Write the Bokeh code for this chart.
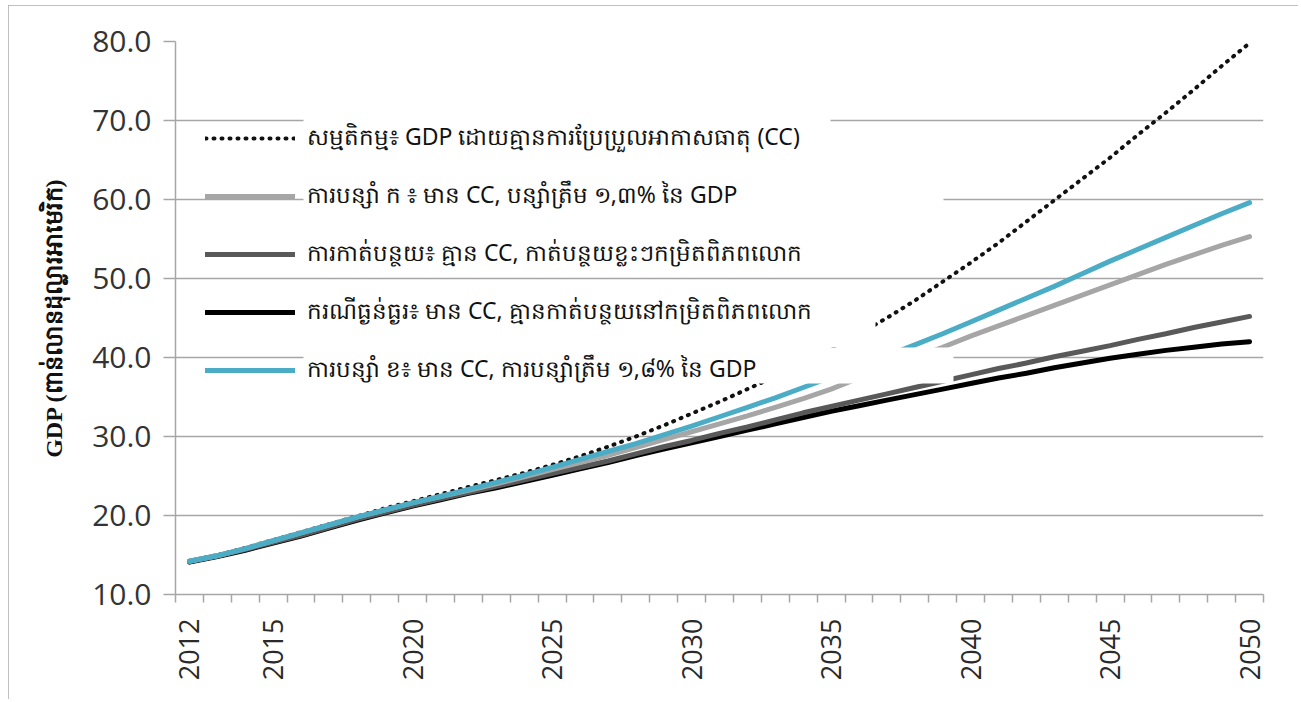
import math
from bokeh.plotting import figure
from bokeh.models import (Range1d, FixedTicker, BoxAnnotation, Legend, LegendItem,
                          NumeralTickFormatter)
from bokeh.embed import file_html
from bokeh.resources import INLINE

# ---------------- data ----------------
years = list(range(2012, 2051))

baseline_no_cc = [14.2, 15.0, 15.9, 16.9, 17.9, 18.9, 19.9, 20.9, 21.8, 22.7,
                  23.6, 24.5, 25.4, 26.4, 27.5, 28.7, 30.0, 31.4, 32.9, 34.4,
                  36.0, 37.6, 39.3, 41.0, 43.0, 45.0, 47.2, 49.6, 52.0, 54.5,
                  57.2, 59.9, 62.6, 65.3, 68.2, 71.0, 73.9, 76.9, 79.8]

adapt_a = [14.2, 14.9, 15.8, 16.8, 17.8, 18.8, 19.8, 20.7, 21.6, 22.4,
           23.2, 24.0, 24.9, 25.8, 26.7, 27.6, 28.6, 29.6, 30.6, 31.6,
           32.6, 33.7, 34.8, 36.0, 37.4, 38.7, 40.0, 41.3, 42.7, 44.0,
           45.3, 46.6, 47.9, 49.2, 50.5, 51.8, 53.0, 54.2, 55.3]

mitigation = [14.2, 14.9, 15.7, 16.6, 17.5, 18.5, 19.5, 20.4, 21.3, 22.1,
              22.9, 23.7, 24.5, 25.3, 26.1, 26.9, 27.8, 28.7, 29.5, 30.4,
              31.2, 32.1, 33.0, 33.8, 34.6, 35.4, 36.2, 37.0, 37.8, 38.6,
              39.3, 40.1, 40.8, 41.5, 42.3, 43.0, 43.8, 44.5, 45.2]

severe = [14.1, 14.8, 15.6, 16.5, 17.4, 18.4, 19.4, 20.3, 21.2, 22.0,
          22.8, 23.5, 24.3, 25.1, 25.9, 26.7, 27.6, 28.4, 29.2, 30.0,
          30.8, 31.6, 32.4, 33.2, 33.9, 34.6, 35.3, 36.0, 36.7, 37.4,
          38.0, 38.7, 39.3, 39.9, 40.4, 40.9, 41.3, 41.7, 42.0]

adapt_b = [14.2, 14.9, 15.8, 16.8, 17.8, 18.8, 19.8, 20.7, 21.6, 22.4,
           23.3, 24.2, 25.1, 26.1, 27.1, 28.1, 29.1, 30.2, 31.3, 32.5,
           33.7, 34.9, 36.2, 37.5, 38.8, 40.2, 41.6, 43.0, 44.5, 46.0,
           47.5, 49.0, 50.6, 52.2, 53.7, 55.2, 56.7, 58.2, 59.6]

series_labels = [
    "សម្មតិកម្ម៖ GDP ដោយគ្មានការប្រែប្រួលអាកាសធាតុ (CC)",
    "ការបន្សាំ ក ៖ មាន CC, បន្សាំត្រឹម ១,៣% នៃ GDP",
    "ការកាត់បន្ថយ៖ គ្មាន CC, កាត់បន្ថយខ្លះៗកម្រិតពិភពលោក",
    "ករណីធ្ងន់ធ្ងរ៖ មាន CC, គ្មានកាត់បន្ថយនៅកម្រិតពិភពលោក",
    "ការបន្សាំ ខ៖ មាន CC, ការបន្សាំត្រឹម ១,៨% នៃ GDP",
]

x_label_years = [2012, 2015, 2020, 2025, 2030, 2035, 2040, 2045, 2050]
y_ticks = [10, 20, 30, 40, 50, 60, 70, 80]
y_title = "GDP (ពាន់លានដុល្លារអាមេរិក)"

# ---------------- figure ----------------
W, H = 1290, 694
ML, MR, MT, MB = 167, 35, 36, 105
FRAME_W, FRAME_H = W - ML - MR, H - MT - MB
p = figure(width=W, height=H, output_backend="svg", toolbar_location=None,
           x_range=Range1d(years[0] - 0.5, years[-1] + 0.5),
           y_range=Range1d(y_ticks[0], y_ticks[-1]),
           min_border_left=ML, min_border_right=MR, min_border_top=MT,
           min_border_bottom=MB)
p.styles = {"margin-left": "8px", "margin-top": "5px",
            "outline": "2px solid #ababab", "outline-offset": "-2px"}
p.outline_line_color = None
p.background_fill_color = "white"
p.border_fill_color = "white"

grid_col = "#a6a6a6"
p.xgrid.visible = False
p.ygrid.ticker = FixedTicker(ticks=y_ticks)
p.ygrid.grid_line_color = grid_col
p.ygrid.grid_line_width = 1.5

# x axis
xa = p.xaxis[0]
xa.ticker = FixedTicker(ticks=x_label_years,
                        minor_ticks=[y - 0.5 for y in years] + [years[-1] + 0.5])
xa.major_tick_out = 0
xa.major_tick_in = 0
xa.minor_tick_out = 8
xa.minor_tick_in = 0
xa.minor_tick_line_color = grid_col
xa.minor_tick_line_width = 1.5
xa.axis_line_color = grid_col
xa.axis_line_width = 1.5
xa.major_label_orientation = math.pi / 2
xa.major_label_text_font = "Open Sans"
xa.major_label_text_font_size = "27px"
xa.major_label_text_color = "#2a2a2a"
xa.major_label_standoff = 16

# y axis
ya = p.yaxis[0]
ya.ticker = FixedTicker(ticks=y_ticks)
ya.formatter = NumeralTickFormatter(format="0.0")
ya.major_tick_out = 12
ya.major_tick_in = 0
ya.minor_tick_out = 0
ya.minor_tick_in = 0
ya.major_tick_line_color = grid_col
ya.major_tick_line_width = 1.5
ya.axis_line_color = grid_col
ya.axis_line_width = 1.5
ya.major_label_text_font = "Open Sans"
ya.major_label_text_font_size = "30px"
ya.major_label_text_color = "#333333"
ya.major_label_standoff = 12
ya.axis_label = y_title
ya.axis_label_text_font = "Liberation Serif"
ya.axis_label_text_font_style = "bold"
ya.axis_label_text_font_size = "24px"
ya.axis_label_text_color = "#111111"
ya.axis_label_standoff = 22

# ---------------- lines ----------------
r_base = p.line(years, baseline_no_cc, line_color="#111111", line_width=4,
                line_dash="1 7", line_cap="round")
r_severe = p.line(years, severe, line_color="#000000", line_width=5, line_cap="round")
r_mit = p.line(years, mitigation, line_color="#595959", line_width=5, line_cap="round")
r_a = p.line(years, adapt_a, line_color="#a6a6a6", line_width=5, line_cap="round")
r_b = p.line(years, adapt_b, line_color="#4bacc6", line_width=5, line_cap="round")

# ---------------- legend (white patches behind labels) ----------------
# layout of the pasted label boxes, px from the plot-area top-left: (left, right, top, bottom)
boxes = [(128, 655, 76, 119), (128, 768, 127, 172), (128, 720, 184, 224),
         (128, 700, 241, 306), (128, 778, 306, 342)]
for (l, r, t, b) in boxes:
    p.add_layout(BoxAnnotation(left=l, right=r, top=FRAME_H - t, bottom=FRAME_H - b,
                               left_units="screen", right_units="screen",
                               top_units="screen", bottom_units="screen",
                               fill_color="white", fill_alpha=1.0,
                               line_color=None, level="overlay"))

legend = Legend(items=[LegendItem(label=series_labels[0], renderers=[r_base]),
                       LegendItem(label=series_labels[1], renderers=[r_a]),
                       LegendItem(label=series_labels[2], renderers=[r_mit]),
                       LegendItem(label=series_labels[3], renderers=[r_severe]),
                       LegendItem(label=series_labels[4], renderers=[r_b])],
                location=(30, 206), orientation="vertical",
                background_fill_alpha=0, border_line_alpha=0,
                glyph_width=90, glyph_height=20, label_height=20,
                label_standoff=12, spacing=22, padding=0, margin=0,
                label_text_font="Noto Sans", label_text_font_size="23px",
                label_text_color="#111111")
p.add_layout(legend, "center")

open("out.html", "w").write(file_html(p, INLINE))
